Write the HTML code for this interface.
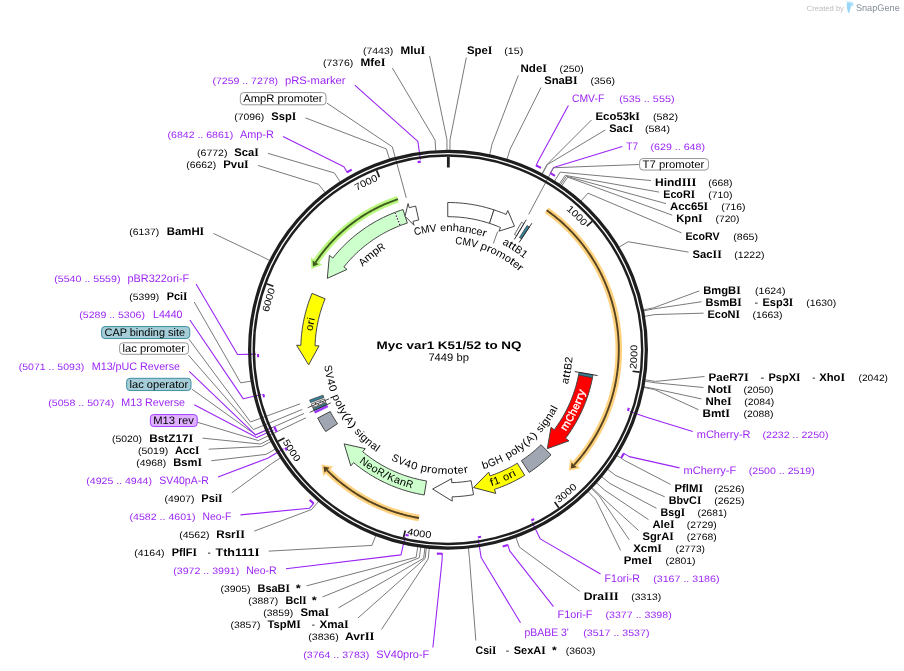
<!DOCTYPE html>
<html><head><meta charset="utf-8"><title>Myc var1 K51/52 to NQ</title>
<style>html,body{margin:0;padding:0;background:#fff}body{width:904px;height:671px;overflow:hidden;font-family:"Liberation Sans", sans-serif}svg{display:block;text-rendering:geometricPrecision;will-change:transform}</style>
</head><body>
<svg width="904" height="671" viewBox="0 0 904 671" font-family='"Liberation Sans", sans-serif'>
<rect width="904" height="671" fill="#fff"/>
<line x1="497.6" y1="231.7" x2="493.31" y2="243.46" stroke="#7a7a7a" stroke-width="1"/>
<polyline points="449.91,150.71 450.02,139.71 466.31,57.5" fill="none" stroke="#7a7a7a" stroke-width="1" stroke-linejoin="round"/>
<polyline points="489.65,155.11 491.96,144.35 518.25,75.5" fill="none" stroke="#7a7a7a" stroke-width="1" stroke-linejoin="round"/>
<polyline points="506.86,159.6 510.12,149.1 540.99,87.5" fill="none" stroke="#7a7a7a" stroke-width="1" stroke-linejoin="round"/>
<polyline points="535.91,166.06 538.89,159.83 568.39,105.5" fill="none" stroke="#9b25f5" stroke-width="1.08" stroke-linejoin="round"/>
<polyline points="541.81,174.2 547,164.5 591.5,120" fill="none" stroke="#7a7a7a" stroke-width="1" stroke-linejoin="round"/>
<polyline points="542.11,174.36 547.31,164.67 605.25,129.99" fill="none" stroke="#7a7a7a" stroke-width="1" stroke-linejoin="round"/>
<polyline points="550.11,173.56 553.57,167.59 622.25,146.53" fill="none" stroke="#9b25f5" stroke-width="1.08" stroke-linejoin="round"/>
<polyline points="638.75,164.5 553.47,167.76 528.65,214.41" fill="none" stroke="#7a7a7a" stroke-width="1" stroke-linejoin="round"/>
<polyline points="554.29,181.46 560.16,172.16 651,180.54" fill="none" stroke="#7a7a7a" stroke-width="1" stroke-linejoin="round"/>
<polyline points="558.99,184.53 565.13,175.4 659.25,192.11" fill="none" stroke="#7a7a7a" stroke-width="1" stroke-linejoin="round"/>
<polyline points="560.14,185.31 566.34,176.22 666,203.63" fill="none" stroke="#7a7a7a" stroke-width="1" stroke-linejoin="round"/>
<polyline points="561.43,186.19 567.7,177.15 672.25,215.18" fill="none" stroke="#7a7a7a" stroke-width="1" stroke-linejoin="round"/>
<polyline points="580.65,201.36 587.98,193.16 681.5,232.88" fill="none" stroke="#7a7a7a" stroke-width="1" stroke-linejoin="round"/>
<polyline points="618.68,247.38 628.11,241.72 688.5,252.14" fill="none" stroke="#7a7a7a" stroke-width="1" stroke-linejoin="round"/>
<polyline points="643,309.98 653.77,307.78 699.25,290.86" fill="none" stroke="#7a7a7a" stroke-width="1" stroke-linejoin="round"/>
<polyline points="643.19,310.96 653.98,308.82 701.5,301.74" fill="none" stroke="#7a7a7a" stroke-width="1" stroke-linejoin="round"/>
<polyline points="644.2,316.41 655.04,314.57 703.5,313.15" fill="none" stroke="#7a7a7a" stroke-width="1" stroke-linejoin="round"/>
<polyline points="644.72,379.76 655.59,381.42 704.5,376.5" fill="none" stroke="#7a7a7a" stroke-width="1" stroke-linejoin="round"/>
<polyline points="644.51,381.08 655.37,382.82 703.5,387.51" fill="none" stroke="#7a7a7a" stroke-width="1" stroke-linejoin="round"/>
<polyline points="643.53,386.71 654.34,388.75 701.5,398.92" fill="none" stroke="#7a7a7a" stroke-width="1" stroke-linejoin="round"/>
<polyline points="643.4,387.36 654.2,389.45 698.5,409.71" fill="none" stroke="#7a7a7a" stroke-width="1" stroke-linejoin="round"/>
<polyline points="629.77,411.53 647.29,417.49 692.75,431.46" fill="none" stroke="#9b25f5" stroke-width="1.08" stroke-linejoin="round"/>
<polyline points="623.39,453.11 629.33,456.61 679.5,467.88" fill="none" stroke="#9b25f5" stroke-width="1.08" stroke-linejoin="round"/>
<polyline points="616.62,455.38 625.94,461.23 670.5,484.4" fill="none" stroke="#7a7a7a" stroke-width="1" stroke-linejoin="round"/>
<polyline points="607.22,469.08 616.02,475.68 664.75,496.83" fill="none" stroke="#7a7a7a" stroke-width="1" stroke-linejoin="round"/>
<polyline points="601.4,476.46 609.88,483.47 656.5,508.33" fill="none" stroke="#7a7a7a" stroke-width="1" stroke-linejoin="round"/>
<polyline points="596.14,482.57 604.33,489.91 648.5,519.64" fill="none" stroke="#7a7a7a" stroke-width="1" stroke-linejoin="round"/>
<polyline points="591.69,487.37 599.64,494.98 638.5,530.44" fill="none" stroke="#7a7a7a" stroke-width="1" stroke-linejoin="round"/>
<polyline points="591.11,487.98 599.02,495.62 629.25,539.71" fill="none" stroke="#7a7a7a" stroke-width="1" stroke-linejoin="round"/>
<polyline points="587.81,491.32 595.53,499.14 620.6,550.5" fill="none" stroke="#7a7a7a" stroke-width="1" stroke-linejoin="round"/>
<polyline points="532.17,522.27 540.28,538.89 600.5,574.08" fill="none" stroke="#9b25f5" stroke-width="1.08" stroke-linejoin="round"/>
<polyline points="515.69,536.83 519.44,547.18 579.75,591.34" fill="none" stroke="#7a7a7a" stroke-width="1" stroke-linejoin="round"/>
<polyline points="507.68,544.36 509.7,550.95 553.5,606.64" fill="none" stroke="#9b25f5" stroke-width="1.08" stroke-linejoin="round"/>
<polyline points="478.24,539.3 481.15,557.57 520.5,622.72" fill="none" stroke="#9b25f5" stroke-width="1.08" stroke-linejoin="round"/>
<polyline points="468.36,547.66 469.48,558.6 475.84,640.5" fill="none" stroke="#7a7a7a" stroke-width="1" stroke-linejoin="round"/>
<polyline points="442.28,553.22 442.08,560.12 432.88,647.5" fill="none" stroke="#9b25f5" stroke-width="1.08" stroke-linejoin="round"/>
<polyline points="429.31,547.82 428.28,558.77 381.47,629.5" fill="none" stroke="#7a7a7a" stroke-width="1" stroke-linejoin="round"/>
<polyline points="426.34,547.52 425.14,558.45 358,617.96" fill="none" stroke="#7a7a7a" stroke-width="1" stroke-linejoin="round"/>
<polyline points="424.96,547.36 423.68,558.29 338.5,607.86" fill="none" stroke="#7a7a7a" stroke-width="1" stroke-linejoin="round"/>
<polyline points="420.81,546.83 419.31,557.73 322.5,596.97" fill="none" stroke="#7a7a7a" stroke-width="1" stroke-linejoin="round"/>
<polyline points="417.82,546.4 416.15,557.27 306.5,585.87" fill="none" stroke="#7a7a7a" stroke-width="1" stroke-linejoin="round"/>
<polyline points="405.13,536.85 401,554.88 286,568.75" fill="none" stroke="#9b25f5" stroke-width="1.08" stroke-linejoin="round"/>
<polyline points="375.91,535.18 371.92,545.43 268.75,551.15" fill="none" stroke="#7a7a7a" stroke-width="1" stroke-linejoin="round"/>
<polyline points="318.83,501.08 311.68,509.44 254.25,531.14" fill="none" stroke="#7a7a7a" stroke-width="1" stroke-linejoin="round"/>
<polyline points="314.04,503.02 309.5,508.22 240.5,514.9" fill="none" stroke="#9b25f5" stroke-width="1.08" stroke-linejoin="round"/>
<polyline points="280.82,457.65 271.58,463.62 231.75,492.9" fill="none" stroke="#7a7a7a" stroke-width="1" stroke-linejoin="round"/>
<polyline points="283.49,448.7 267.64,458.24 218,477.12" fill="none" stroke="#9b25f5" stroke-width="1.08" stroke-linejoin="round"/>
<polyline points="275.49,448.91 265.96,454.39 211.25,460.77" fill="none" stroke="#7a7a7a" stroke-width="1" stroke-linejoin="round"/>
<polyline points="271.39,441.4 261.62,446.47 208.75,449.18" fill="none" stroke="#7a7a7a" stroke-width="1" stroke-linejoin="round"/>
<polyline points="270.22,439.11 260.39,444.06 202.5,438.14" fill="none" stroke="#7a7a7a" stroke-width="1" stroke-linejoin="round"/>
<polyline points="198,422.45 258.34,440.57 305.96,417.75" fill="none" stroke="#7a7a7a" stroke-width="1" stroke-linejoin="round"/>
<polyline points="273.54,429.88 256.74,437.61 194.25,404.78" fill="none" stroke="#9b25f5" stroke-width="1.08" stroke-linejoin="round"/>
<polyline points="191.75,389.03 255.73,434.9 304.01,413.51" fill="none" stroke="#7a7a7a" stroke-width="1" stroke-linejoin="round"/>
<polyline points="272.41,427.37 255.49,434.86 189.25,371.48" fill="none" stroke="#9b25f5" stroke-width="1.08" stroke-linejoin="round"/>
<polyline points="188.42,355 253.43,429.5 302.28,409.46" fill="none" stroke="#7a7a7a" stroke-width="1" stroke-linejoin="round"/>
<polyline points="189.02,339.25 250.51,421.97 300.09,403.83" fill="none" stroke="#7a7a7a" stroke-width="1" stroke-linejoin="round"/>
<polyline points="261.3,394.51 243.31,398.83 189.9,320" fill="none" stroke="#9b25f5" stroke-width="1.08" stroke-linejoin="round"/>
<polyline points="251.49,381.08 240.63,382.82 194.23,302" fill="none" stroke="#7a7a7a" stroke-width="1" stroke-linejoin="round"/>
<polyline points="256.05,354.12 237.56,354.54 196.07,284" fill="none" stroke="#9b25f5" stroke-width="1.08" stroke-linejoin="round"/>
<polyline points="270.05,260.62 260.22,255.69 213.5,233.47" fill="none" stroke="#7a7a7a" stroke-width="1" stroke-linejoin="round"/>
<polyline points="325.39,192.96 318.61,184.3 258,165.44" fill="none" stroke="#7a7a7a" stroke-width="1" stroke-linejoin="round"/>
<polyline points="340.44,182.27 334.49,173.02 268,153.35" fill="none" stroke="#7a7a7a" stroke-width="1" stroke-linejoin="round"/>
<polyline points="347.33,172.73 343.92,166.73 283,136.59" fill="none" stroke="#9b25f5" stroke-width="1.08" stroke-linejoin="round"/>
<polyline points="389.62,159.46 386.39,148.94 305.5,117.9" fill="none" stroke="#7a7a7a" stroke-width="1" stroke-linejoin="round"/>
<polyline points="326.75,102.98 392.33,146.9 406.31,197.82" fill="none" stroke="#7a7a7a" stroke-width="1" stroke-linejoin="round"/>
<polyline points="420.48,159.68 417.83,141.37 354.75,85.08" fill="none" stroke="#9b25f5" stroke-width="1.08" stroke-linejoin="round"/>
<polyline points="435.75,151.08 435.08,140.1 392.35,68" fill="none" stroke="#7a7a7a" stroke-width="1" stroke-linejoin="round"/>
<polyline points="446.99,150.7 446.94,139.7 429.6,56" fill="none" stroke="#7a7a7a" stroke-width="1" stroke-linejoin="round"/>
<circle cx="448" cy="349.7" r="198.35" fill="none" stroke="#1e1e1e" stroke-width="3.25"/>
<circle cx="448" cy="349.7" r="194.2" fill="none" stroke="#1e1e1e" stroke-width="2.45"/>
<line x1="448.34" y1="156.7" x2="448.32" y2="167.5" stroke="#1e1e1e" stroke-width="2.8"/>
<line x1="592.17" y1="221.38" x2="586.79" y2="226.17" stroke="#1e1e1e" stroke-width="1.7"/>
<line x1="639.7" y1="372.07" x2="632.55" y2="371.24" stroke="#1e1e1e" stroke-width="1.7"/>
<line x1="558.74" y1="507.77" x2="554.61" y2="501.87" stroke="#1e1e1e" stroke-width="1.7"/>
<line x1="403.55" y1="537.51" x2="405.21" y2="530.51" stroke="#1e1e1e" stroke-width="1.7"/>
<line x1="278.16" y1="441.37" x2="284.49" y2="437.95" stroke="#1e1e1e" stroke-width="1.7"/>
<line x1="266.61" y1="283.78" x2="273.37" y2="286.24" stroke="#1e1e1e" stroke-width="1.7"/>
<line x1="376.64" y1="170.38" x2="379.3" y2="177.07" stroke="#1e1e1e" stroke-width="1.7"/>
<polygon points="447.74,202.5 450.35,202.52 452.97,202.58 455.58,202.7 458.18,202.85 460.79,203.06 463.39,203.31 465.98,203.6 468.57,203.94 471.15,204.33 473.73,204.77 476.3,205.25 478.86,205.77 481.4,206.34 483.94,206.96 486.47,207.62 488.99,208.32 491.49,209.07 493.98,209.86 489.54,223.35 487.29,222.64 485.03,221.96 482.76,221.32 480.48,220.73 478.18,220.17 475.88,219.65 473.57,219.18 471.25,218.75 468.92,218.36 466.59,218.01 464.25,217.7 461.9,217.43 459.55,217.2 457.2,217.02 454.84,216.88 452.49,216.78 450.13,216.72 447.77,216.7" fill="#ffffff" stroke="#444" stroke-width="1" stroke-linejoin="miter"/>
<polygon points="493.98,209.86 496.43,210.7 498.88,211.57 501.3,212.49 503.71,213.45 506.11,214.45 507.8,210.5 514.47,226.26 498.92,231.18 500.5,227.5 498.34,226.59 496.16,225.73 493.97,224.9 491.76,224.11 489.54,223.35" fill="#ffffff" stroke="#444" stroke-width="1" stroke-linejoin="miter"/>
<polygon points="521.6,222.22 523.92,223.59 516.6,235.76 514.5,234.52" fill="#ffffff" stroke="#444" stroke-width="0.8" stroke-linejoin="miter"/>
<line x1="514.38" y1="239.44" x2="526.3" y2="219.65" stroke="#222" stroke-width="0.9"/>
<polygon points="527.09,225.55 529.35,227.02 521.5,238.86 519.46,237.53" fill="#31849b" stroke="#444" stroke-width="0.8" stroke-linejoin="miter"/>
<line x1="519.13" y1="242.44" x2="531.89" y2="223.19" stroke="#222" stroke-width="0.9"/>
<polygon points="593.03,374.88 592.5,377.79 578.56,375.08 579.04,372.45" fill="#31849b" stroke="#444" stroke-width="0.8" stroke-linejoin="miter"/>
<line x1="574.82" y1="371.61" x2="597.58" y2="375.54" stroke="#222" stroke-width="0.9"/>
<polygon points="592.5,377.79 591.98,380.3 591.43,382.81 590.83,385.31 590.18,387.8 589.5,390.27 588.77,392.74 588,395.19 587.18,397.62 586.32,400.05 585.42,402.45 584.48,404.84 583.5,407.22 582.47,409.57 581.41,411.91 580.3,414.23 579.16,416.53 577.97,418.81 576.74,421.06 575.48,423.3 574.18,425.51 572.83,427.7 571.45,429.87 570.03,432.01 568.58,434.13 567.09,436.22 565.56,438.29 568.99,440.87 547.31,448.66 551.02,427.33 554.22,429.74 555.6,427.88 556.95,425.99 558.26,424.07 559.54,422.14 560.79,420.18 562,418.2 563.18,416.2 564.32,414.18 565.43,412.14 566.5,410.08 567.54,408 568.54,405.91 569.5,403.8 570.43,401.67 571.32,399.52 572.17,397.36 572.98,395.19 573.75,393 574.49,390.8 575.19,388.59 575.85,386.36 576.47,384.12 577.05,381.88 577.59,379.62 578.09,377.35 578.56,375.08" fill="#ff0000" stroke="#444" stroke-width="1" stroke-linejoin="miter"/>
<polygon points="550.99,454.87 548.97,456.81 546.92,458.71 544.82,460.57 542.7,462.4 540.54,464.18 538.34,465.92 536.11,467.61 533.86,469.27 531.57,470.88 529.25,472.45 521.41,460.61 523.5,459.19 525.57,457.73 527.61,456.24 529.63,454.71 531.61,453.13 533.56,451.52 535.48,449.88 537.37,448.2 539.23,446.48 541.06,444.72" fill="#a0a7b3" stroke="#444" stroke-width="1" stroke-linejoin="miter"/>
<polygon points="524.69,475.34 522.49,476.66 520.26,477.94 518.01,479.18 515.74,480.39 513.45,481.55 511.14,482.67 508.81,483.75 506.46,484.79 504.09,485.79 501.71,486.75 499.31,487.67 496.89,488.54 494.46,489.37 495.82,493.45 473.55,487.55 488.72,472.11 489.98,475.9 492.18,475.15 494.36,474.36 496.53,473.53 498.68,472.66 500.82,471.76 502.94,470.82 505.05,469.84 507.14,468.83 509.21,467.78 511.26,466.69 513.29,465.57 515.3,464.41 517.29,463.22" fill="#ffff00" stroke="#444" stroke-width="1" stroke-linejoin="miter"/>
<polygon points="473.56,494.66 470.9,495.11 468.23,495.5 465.56,495.85 462.88,496.15 460.19,496.39 457.5,496.59 454.81,496.74 452.11,496.84 452.23,501.14 432.62,489.05 451.6,478.65 451.71,482.65 454.15,482.56 456.58,482.42 459.01,482.24 461.44,482.02 463.86,481.75 466.28,481.44 468.69,481.08 471.1,480.68" fill="#ffffff" stroke="#444" stroke-width="1" stroke-linejoin="miter"/>
<polygon points="424.21,494.97 421.63,494.52 419.06,494.03 416.49,493.49 413.94,492.9 411.39,492.28 408.86,491.6 406.34,490.88 403.83,490.12 401.34,489.31 398.86,488.46 396.4,487.56 393.96,486.62 391.53,485.64 389.12,484.61 386.72,483.54 384.35,482.43 382,481.27 379.67,480.08 377.36,478.84 375.07,477.56 372.8,476.24 370.56,474.89 368.35,473.49 366.16,472.05 363.99,470.57 361.85,469.06 359.74,467.51 357.66,465.92 355.6,464.29 353.58,462.63 350.82,465.93 344.14,443.88 365.25,448.66 362.69,451.73 364.52,453.24 366.37,454.71 368.26,456.14 370.16,457.54 372.1,458.91 374.05,460.25 376.03,461.55 378.03,462.81 380.06,464.04 382.1,465.23 384.17,466.38 386.26,467.5 388.37,468.58 390.49,469.62 392.63,470.63 394.8,471.59 396.97,472.52 399.17,473.41 401.38,474.26 403.6,475.07 405.84,475.84 408.09,476.57 410.36,477.26 412.64,477.91 414.92,478.52 417.22,479.09 419.53,479.62 421.85,480.1 424.17,480.55 426.51,480.95" fill="#ccffcc" stroke="#444" stroke-width="1" stroke-linejoin="miter"/>
<polygon points="325.68,431.59 324.25,429.4 322.85,427.2 321.5,424.96 320.18,422.71 318.9,420.43 317.67,418.12 330.24,411.52 331.36,413.6 332.51,415.66 333.7,417.7 334.92,419.72 336.18,421.71 337.48,423.69" fill="#a0a7b3" stroke="#444" stroke-width="1" stroke-linejoin="miter"/>
<polygon points="312,293.37 311,295.85 310.05,298.34 309.14,300.85 308.28,303.38 307.46,305.93 306.69,308.48 305.96,311.06 305.29,313.64 304.65,316.24 304.07,318.84 303.53,321.46 303.05,324.09 302.6,326.72 302.21,329.37 301.87,332.02 301.57,334.67 301.32,337.33 301.12,340 300.97,342.66 300.86,345.33 296.57,345.21 308.62,364.84 319.06,345.87 315.06,345.75 315.15,343.34 315.29,340.93 315.47,338.52 315.7,336.12 315.96,333.72 316.28,331.33 316.63,328.94 317.03,326.56 317.47,324.19 317.95,321.82 318.48,319.46 319.05,317.12 319.66,314.78 320.32,312.46 321.02,310.15 321.76,307.85 322.54,305.57 323.36,303.3 324.22,301.04 325.12,298.8" fill="#ffff00" stroke="#444" stroke-width="1" stroke-linejoin="miter"/>
<polygon points="403,209.55 400.51,210.37 398.04,211.24 395.58,212.15 393.13,213.11 390.71,214.11 388.3,215.15 385.91,216.24 383.54,217.36 381.19,218.53 378.87,219.74 376.56,221 374.28,222.29 372.02,223.63 369.78,225 367.57,226.41 365.39,227.87 363.23,229.36 361.1,230.89 359,232.46 356.92,234.06 354.87,235.7 352.86,237.38 350.87,239.09 348.92,240.84 346.99,242.63 345.1,244.44 343.24,246.29 341.41,248.18 339.62,250.09 337.86,252.04 336.14,254.02 334.45,256.03 332.8,258.07 329.43,255.39 327.32,278.33 347.04,269.4 343.91,266.91 345.41,265.06 346.93,263.25 348.49,261.46 350.08,259.7 351.69,257.97 353.34,256.27 355.03,254.6 356.73,252.95 358.47,251.34 360.24,249.76 362.04,248.22 363.86,246.7 365.71,245.22 367.58,243.77 369.48,242.35 371.41,240.97 373.36,239.62 375.33,238.31 377.33,237.03 379.35,235.79 381.39,234.58 383.45,233.41 385.54,232.28 387.64,231.19 389.76,230.13 391.9,229.11 394.06,228.13 396.23,227.19 398.43,226.28 400.63,225.42 402.86,224.6 405.09,223.81 407.34,223.07" fill="#ccffcc" stroke="#444" stroke-width="1" stroke-linejoin="miter"/>
<polygon points="415.64,206.1 412.42,206.86 409.22,207.7 408.09,203.55 405.03,216.25 414.01,225.26 412.96,221.4 415.85,220.64 418.76,219.95" fill="#ffffff" stroke="#444" stroke-width="1" stroke-linejoin="miter"/>
<polygon points="315.19,413.19 314.3,411.28 327.2,405.34 328.01,407.06" fill="#9933ff" stroke="#9933ff" stroke-width="0.5" stroke-linejoin="miter"/>
<polygon points="313.95,410.51 313.06,408.51 326.08,402.84 326.88,404.64" fill="#31849b" stroke="#444" stroke-width="0.8" stroke-linejoin="miter"/>
<line x1="330.8" y1="402.87" x2="309.76" y2="412.41" stroke="#222" stroke-width="0.8"/>
<polygon points="312.75,407.81 311.23,404.13 324.43,398.88 325.8,402.2" fill="#ffffff" stroke="#444" stroke-width="0.8" stroke-linejoin="miter"/>
<line x1="329.05" y1="398.85" x2="307.7" y2="407.67" stroke="#222" stroke-width="0.8"/>
<polygon points="310.62,402.57 309.68,400.05 323.02,395.19 323.88,397.47" fill="#31849b" stroke="#444" stroke-width="0.8" stroke-linejoin="miter"/>
<circle cx="323.09" cy="402.21" r="0.7" fill="#222"/>
<circle cx="320.23" cy="401.84" r="0.7" fill="#222"/>
<circle cx="318.48" cy="404.15" r="0.7" fill="#222"/>
<circle cx="315.6" cy="403.73" r="0.7" fill="#222"/>
<circle cx="313.87" cy="406.08" r="0.7" fill="#222"/>
<line x1="399.9" y1="225.06" x2="395.22" y2="212.93" stroke="#fff" stroke-width="1.6"/>
<line x1="399.9" y1="225.06" x2="395.22" y2="212.93" stroke="#222" stroke-width="1.3" stroke-dasharray="1.3,1.7"/>
<path d="M546.6,210.23 L547.82,211.1 L549.02,211.98 L550.22,212.87 L551.41,213.77 L552.6,214.67 L553.77,215.59 L554.94,216.52 L556.1,217.46 L557.25,218.41 L558.39,219.37 L559.53,220.34 L560.65,221.32 L561.77,222.31 L562.88,223.31 L563.98,224.32 L565.07,225.33 L566.15,226.36 L567.23,227.4 L568.29,228.44 L569.35,229.5 L570.39,230.56 L571.43,231.64 L572.45,232.72 L573.47,233.81 L574.48,234.91 L575.48,236.02 L576.46,237.14 L577.44,238.27 L578.41,239.4 L579.37,240.55 L580.32,241.7 L581.26,242.86 L582.19,244.03 L583.1,245.2 L584.01,246.39 L584.91,247.58 L585.8,248.78 L586.67,249.99 L587.54,251.2 L588.39,252.43 L589.24,253.66 L590.07,254.89 L590.89,256.14 L591.71,257.39 L592.51,258.65 L593.3,259.92 L594.08,261.19 L594.84,262.47 L595.6,263.75 L596.35,265.05 L597.08,266.35 L597.8,267.65 L598.51,268.96 L599.21,270.28 L599.9,271.61 L600.58,272.94 L601.24,274.27 L601.9,275.61 L602.54,276.96 L603.17,278.31 L603.78,279.67 L604.39,281.04 L604.98,282.41 L605.57,283.78 L606.14,285.16 L606.69,286.54 L607.24,287.93 L607.77,289.33 L608.29,290.72 L608.8,292.13 L609.3,293.53 L609.79,294.94 L610.26,296.36 L610.72,297.78 L611.16,299.2 L611.6,300.63 L612.02,302.06 L612.43,303.5 L612.83,304.94 L613.21,306.38 L613.59,307.82 L613.95,309.27 L614.29,310.72 L614.63,312.18 L614.95,313.63 L615.26,315.09 L615.55,316.56 L615.84,318.02 L616.11,319.49 L616.36,320.96 L616.61,322.43 L616.84,323.9 L617.06,325.38 L617.27,326.86 L617.46,328.34 L617.64,329.82 L617.81,331.3 L617.96,332.79 L618.1,334.27 L618.23,335.76 L618.35,337.25 L618.45,338.74 L618.54,340.22 L618.61,341.72 L618.68,343.21 L618.73,344.7 L618.76,346.19 L618.79,347.68 L618.8,349.17 L618.8,350.67 L618.78,352.16 L618.75,353.65 L618.71,355.14 L618.66,356.63 L618.59,358.12 L618.51,359.61 L618.42,361.1 L618.31,362.59 L618.19,364.08 L618.06,365.57 L617.92,367.05 L617.76,368.53 L617.59,370.02 L617.4,371.5 L617.21,372.98 L617,374.45 L616.77,375.93 L616.54,377.4 L616.29,378.87 L616.03,380.34 L615.75,381.81 L615.47,383.27 L615.17,384.74 L614.86,386.2 L614.53,387.65 L614.19,389.11 L613.84,390.56 L613.48,392 L613.1,393.45 L612.71,394.89 L612.31,396.33 L611.9,397.76 L611.47,399.19 L611.03,400.62 L610.58,402.04 L610.12,403.46 L609.64,404.87 L609.16,406.28 L608.66,407.69 L608.14,409.09 L607.62,410.49 L607.08,411.88 L606.53,413.26 L605.97,414.65 L605.4,416.03 L604.81,417.4 L604.21,418.77 L603.6,420.13 L602.98,421.48 L602.35,422.84 L601.7,424.18 L601.05,425.52 L600.38,426.86 L599.7,428.18 L599.01,429.51 L598.31,430.82 L597.59,432.13 L596.87,433.44 L596.13,434.73 L595.38,436.02 L594.62,437.31 L593.85,438.59 L593.07,439.86 L592.27,441.12 L591.47,442.38 L590.65,443.63 L589.83,444.87 L588.99,446.11 L588.14,447.33 L587.28,448.56 L586.42,449.77 L585.54,450.97 L584.65,452.17 L583.75,453.36 L582.84,454.54 L581.91,455.72 L580.98,456.88 L580.04,458.04 L579.09,459.19 L578.13,460.33 L577.16,461.46 L576.18,462.59 L575.18,463.7 L574.18,464.81" fill="none" stroke="#ffd27f" stroke-width="6.6" stroke-linecap="butt"/>
<polygon points="576.84,467.24 570.76,468.45 571.52,462.38" fill="#ffd27f" stroke="#ffd27f" stroke-width="3.4" stroke-linejoin="miter"/>
<path d="M546.6,210.23 L547.82,211.1 L549.02,211.98 L550.22,212.87 L551.41,213.77 L552.6,214.67 L553.77,215.59 L554.94,216.52 L556.1,217.46 L557.25,218.41 L558.39,219.37 L559.53,220.34 L560.65,221.32 L561.77,222.31 L562.88,223.31 L563.98,224.32 L565.07,225.33 L566.15,226.36 L567.23,227.4 L568.29,228.44 L569.35,229.5 L570.39,230.56 L571.43,231.64 L572.45,232.72 L573.47,233.81 L574.48,234.91 L575.48,236.02 L576.46,237.14 L577.44,238.27 L578.41,239.4 L579.37,240.55 L580.32,241.7 L581.26,242.86 L582.19,244.03 L583.1,245.2 L584.01,246.39 L584.91,247.58 L585.8,248.78 L586.67,249.99 L587.54,251.2 L588.39,252.43 L589.24,253.66 L590.07,254.89 L590.89,256.14 L591.71,257.39 L592.51,258.65 L593.3,259.92 L594.08,261.19 L594.84,262.47 L595.6,263.75 L596.35,265.05 L597.08,266.35 L597.8,267.65 L598.51,268.96 L599.21,270.28 L599.9,271.61 L600.58,272.94 L601.24,274.27 L601.9,275.61 L602.54,276.96 L603.17,278.31 L603.78,279.67 L604.39,281.04 L604.98,282.41 L605.57,283.78 L606.14,285.16 L606.69,286.54 L607.24,287.93 L607.77,289.33 L608.29,290.72 L608.8,292.13 L609.3,293.53 L609.79,294.94 L610.26,296.36 L610.72,297.78 L611.16,299.2 L611.6,300.63 L612.02,302.06 L612.43,303.5 L612.83,304.94 L613.21,306.38 L613.59,307.82 L613.95,309.27 L614.29,310.72 L614.63,312.18 L614.95,313.63 L615.26,315.09 L615.55,316.56 L615.84,318.02 L616.11,319.49 L616.36,320.96 L616.61,322.43 L616.84,323.9 L617.06,325.38 L617.27,326.86 L617.46,328.34 L617.64,329.82 L617.81,331.3 L617.96,332.79 L618.1,334.27 L618.23,335.76 L618.35,337.25 L618.45,338.74 L618.54,340.22 L618.61,341.72 L618.68,343.21 L618.73,344.7 L618.76,346.19 L618.79,347.68 L618.8,349.17 L618.8,350.67 L618.78,352.16 L618.75,353.65 L618.71,355.14 L618.66,356.63 L618.59,358.12 L618.51,359.61 L618.42,361.1 L618.31,362.59 L618.19,364.08 L618.06,365.57 L617.92,367.05 L617.76,368.53 L617.59,370.02 L617.4,371.5 L617.21,372.98 L617,374.45 L616.77,375.93 L616.54,377.4 L616.29,378.87 L616.03,380.34 L615.75,381.81 L615.47,383.27 L615.17,384.74 L614.86,386.2 L614.53,387.65 L614.19,389.11 L613.84,390.56 L613.48,392 L613.1,393.45 L612.71,394.89 L612.31,396.33 L611.9,397.76 L611.47,399.19 L611.03,400.62 L610.58,402.04 L610.12,403.46 L609.64,404.87 L609.16,406.28 L608.66,407.69 L608.14,409.09 L607.62,410.49 L607.08,411.88 L606.53,413.26 L605.97,414.65 L605.4,416.03 L604.81,417.4 L604.21,418.77 L603.6,420.13 L602.98,421.48 L602.35,422.84 L601.7,424.18 L601.05,425.52 L600.38,426.86 L599.7,428.18 L599.01,429.51 L598.31,430.82 L597.59,432.13 L596.87,433.44 L596.13,434.73 L595.38,436.02 L594.62,437.31 L593.85,438.59 L593.07,439.86 L592.27,441.12 L591.47,442.38 L590.65,443.63 L589.83,444.87 L588.99,446.11 L588.14,447.33 L587.28,448.56 L586.42,449.77 L585.54,450.97 L584.65,452.17 L583.75,453.36 L582.84,454.54 L581.91,455.72 L580.98,456.88 L580.04,458.04 L579.09,459.19 L578.13,460.33 L577.16,461.46 L576.18,462.59 L575.18,463.7 L574.18,464.81" fill="none" stroke="#57431f" stroke-width="1.9"/>
<polygon points="576.84,467.24 570.76,468.45 571.52,462.38" fill="#57431f"/>
<path d="M419.08,518.03 L417.59,517.77 L416.11,517.5 L414.63,517.21 L413.16,516.91 L411.68,516.59 L410.21,516.27 L408.74,515.93 L407.28,515.57 L405.82,515.21 L404.36,514.83 L402.91,514.44 L401.45,514.04 L400.01,513.62 L398.56,513.19 L397.12,512.75 L395.69,512.29 L394.26,511.82 L392.83,511.34 L391.4,510.85 L389.99,510.35 L388.57,509.83 L387.16,509.3 L385.76,508.75 L384.36,508.2 L382.96,507.63 L381.57,507.05 L380.18,506.46 L378.8,505.86 L377.43,505.24 L376.06,504.61 L374.7,503.97 L373.34,503.32 L371.99,502.65 L370.64,501.98 L369.3,501.29 L367.97,500.59 L366.64,499.88 L365.32,499.15 L364,498.42 L362.7,497.67 L361.39,496.91 L360.1,496.14 L358.81,495.36 L357.53,494.57 L356.26,493.77 L354.99,492.95 L353.73,492.13 L352.48,491.29 L351.23,490.44 L349.99,489.58 L348.76,488.71 L347.54,487.83 L346.33,486.94 L345.12,486.04 L343.92,485.13 L342.73,484.2 L341.55,483.27 L340.38,482.33 L339.21,481.37 L338.05,480.41 L336.9,479.43 L335.76,478.45 L334.63,477.45 L333.51,476.45 L332.4,475.43 L331.29,474.41 L330.2,473.37 L329.11,472.33 L328.04,471.28 L326.97,470.21" fill="none" stroke="#ffd27f" stroke-width="6.6" stroke-linecap="butt"/>
<polygon points="324.42,472.75 323.49,466.62 329.52,467.67" fill="#ffd27f" stroke="#ffd27f" stroke-width="3.4" stroke-linejoin="miter"/>
<path d="M419.08,518.03 L417.59,517.77 L416.11,517.5 L414.63,517.21 L413.16,516.91 L411.68,516.59 L410.21,516.27 L408.74,515.93 L407.28,515.57 L405.82,515.21 L404.36,514.83 L402.91,514.44 L401.45,514.04 L400.01,513.62 L398.56,513.19 L397.12,512.75 L395.69,512.29 L394.26,511.82 L392.83,511.34 L391.4,510.85 L389.99,510.35 L388.57,509.83 L387.16,509.3 L385.76,508.75 L384.36,508.2 L382.96,507.63 L381.57,507.05 L380.18,506.46 L378.8,505.86 L377.43,505.24 L376.06,504.61 L374.7,503.97 L373.34,503.32 L371.99,502.65 L370.64,501.98 L369.3,501.29 L367.97,500.59 L366.64,499.88 L365.32,499.15 L364,498.42 L362.7,497.67 L361.39,496.91 L360.1,496.14 L358.81,495.36 L357.53,494.57 L356.26,493.77 L354.99,492.95 L353.73,492.13 L352.48,491.29 L351.23,490.44 L349.99,489.58 L348.76,488.71 L347.54,487.83 L346.33,486.94 L345.12,486.04 L343.92,485.13 L342.73,484.2 L341.55,483.27 L340.38,482.33 L339.21,481.37 L338.05,480.41 L336.9,479.43 L335.76,478.45 L334.63,477.45 L333.51,476.45 L332.4,475.43 L331.29,474.41 L330.2,473.37 L329.11,472.33 L328.04,471.28 L326.97,470.21" fill="none" stroke="#57431f" stroke-width="1.9"/>
<polygon points="324.42,472.75 323.49,466.62 329.52,467.67" fill="#57431f"/>
<path d="M397.94,199.21 L396.62,199.65 L395.31,200.11 L394,200.58 L392.69,201.06 L391.39,201.55 L390.09,202.05 L388.8,202.56 L387.51,203.09 L386.23,203.62 L384.95,204.17 L383.67,204.73 L382.4,205.3 L381.14,205.88 L379.88,206.47 L378.63,207.08 L377.38,207.69 L376.14,208.32 L374.9,208.95 L373.67,209.6 L372.44,210.25 L371.22,210.92 L370.01,211.6 L368.8,212.29 L367.6,212.99 L366.4,213.7 L365.21,214.42 L364.03,215.15 L362.85,215.9 L361.68,216.65 L360.52,217.41 L359.36,218.18 L358.21,218.96 L357.07,219.76 L355.93,220.56 L354.8,221.37 L353.68,222.19 L352.56,223.03 L351.46,223.87 L350.36,224.72 L349.26,225.58 L348.18,226.45 L347.1,227.33 L346.03,228.22 L344.97,229.12 L343.92,230.03 L342.87,230.95 L341.84,231.87 L340.81,232.81 L339.78,233.75 L338.77,234.71 L337.77,235.67 L336.77,236.64 L335.78,237.62 L334.81,238.61 L333.84,239.61 L332.87,240.61 L331.92,241.63 L330.98,242.65 L330.04,243.68 L329.12,244.72 L328.2,245.76 L327.3,246.82 L326.4,247.88 L325.51,248.95 L324.63,250.03 L323.76,251.12 L322.9,252.21 L322.05,253.31 L321.21,254.42 L320.38,255.54 L319.56,256.66 L318.75,257.79 L317.95,258.93 L317.15,260.07 L316.37,261.22 L315.6,262.38" fill="none" stroke="#b9f77f" stroke-width="6.6" stroke-linecap="butt"/>
<polygon points="312.6,260.4 312.92,266.6 318.61,264.36" fill="#b9f77f" stroke="#b9f77f" stroke-width="3.4" stroke-linejoin="miter"/>
<path d="M397.94,199.21 L396.62,199.65 L395.31,200.11 L394,200.58 L392.69,201.06 L391.39,201.55 L390.09,202.05 L388.8,202.56 L387.51,203.09 L386.23,203.62 L384.95,204.17 L383.67,204.73 L382.4,205.3 L381.14,205.88 L379.88,206.47 L378.63,207.08 L377.38,207.69 L376.14,208.32 L374.9,208.95 L373.67,209.6 L372.44,210.25 L371.22,210.92 L370.01,211.6 L368.8,212.29 L367.6,212.99 L366.4,213.7 L365.21,214.42 L364.03,215.15 L362.85,215.9 L361.68,216.65 L360.52,217.41 L359.36,218.18 L358.21,218.96 L357.07,219.76 L355.93,220.56 L354.8,221.37 L353.68,222.19 L352.56,223.03 L351.46,223.87 L350.36,224.72 L349.26,225.58 L348.18,226.45 L347.1,227.33 L346.03,228.22 L344.97,229.12 L343.92,230.03 L342.87,230.95 L341.84,231.87 L340.81,232.81 L339.78,233.75 L338.77,234.71 L337.77,235.67 L336.77,236.64 L335.78,237.62 L334.81,238.61 L333.84,239.61 L332.87,240.61 L331.92,241.63 L330.98,242.65 L330.04,243.68 L329.12,244.72 L328.2,245.76 L327.3,246.82 L326.4,247.88 L325.51,248.95 L324.63,250.03 L323.76,251.12 L322.9,252.21 L322.05,253.31 L321.21,254.42 L320.38,255.54 L319.56,256.66 L318.75,257.79 L317.95,258.93 L317.15,260.07 L316.37,261.22 L315.6,262.38" fill="none" stroke="#3d5c1e" stroke-width="1.9"/>
<polygon points="312.6,260.4 312.92,266.6 318.61,264.36" fill="#3d5c1e"/>
<path d="M536.17,165.52 L541.01,167.91" stroke="#9b25f5" stroke-width="2.1" fill="none"/>
<path d="M550.41,173.04 L555.04,175.81" stroke="#9b25f5" stroke-width="2.1" fill="none"/>
<path d="M628.88,407.85 L627.88,410.89" stroke="#9b25f5" stroke-width="2.1" fill="none"/>
<path d="M623.9,453.41 L621.1,458.03" stroke="#9b25f5" stroke-width="2.1" fill="none"/>
<path d="M534.16,519.04 L531.3,520.47" stroke="#9b25f5" stroke-width="2.1" fill="none"/>
<path d="M507.85,544.93 L502.67,546.45" stroke="#9b25f5" stroke-width="2.1" fill="none"/>
<path d="M481.09,536.8 L477.92,537.33" stroke="#9b25f5" stroke-width="2.1" fill="none"/>
<path d="M442.26,553.82 L436.87,553.6" stroke="#9b25f5" stroke-width="2.1" fill="none"/>
<path d="M408.7,535.59 L405.57,534.9" stroke="#9b25f5" stroke-width="2.1" fill="none"/>
<path d="M313.65,503.48 L309.63,499.87" stroke="#9b25f5" stroke-width="2.1" fill="none"/>
<path d="M286.88,450.4 L285.21,447.67" stroke="#9b25f5" stroke-width="2.1" fill="none"/>
<path d="M276.72,431.94 L275.36,429.05" stroke="#9b25f5" stroke-width="2.1" fill="none"/>
<path d="M275.7,429.77 L274.24,426.56" stroke="#9b25f5" stroke-width="2.1" fill="none"/>
<path d="M264.02,397.15 L263.25,394.04" stroke="#9b25f5" stroke-width="2.1" fill="none"/>
<path d="M258.15,357.27 L258.05,354.07" stroke="#9b25f5" stroke-width="2.1" fill="none"/>
<path d="M347.03,172.21 L351.76,169.6" stroke="#9b25f5" stroke-width="2.1" fill="none"/>
<path d="M417.6,162.15 L420.77,161.66" stroke="#9b25f5" stroke-width="2.1" fill="none"/>
<text transform="translate(568.31,211.81) rotate(41.11) scale(1.12,1)" text-anchor="middle" font-size="9.7" fill="#000">1</text>
<text transform="translate(572.73,215.79) rotate(42.97) scale(1.12,1)" text-anchor="middle" font-size="9.7" fill="#000">0</text>
<text transform="translate(577.01,219.91) rotate(44.83) scale(1.12,1)" text-anchor="middle" font-size="9.7" fill="#000">0</text>
<text transform="translate(581.16,224.17) rotate(46.69) scale(1.12,1)" text-anchor="middle" font-size="9.7" fill="#000">0</text>
<text transform="translate(636.57,366.26) rotate(275.02) scale(1.12,1)" text-anchor="middle" font-size="9.7" fill="#000">2</text>
<text transform="translate(637.01,360.13) rotate(273.16) scale(1.12,1)" text-anchor="middle" font-size="9.7" fill="#000">0</text>
<text transform="translate(637.25,353.98) rotate(271.3) scale(1.12,1)" text-anchor="middle" font-size="9.7" fill="#000">0</text>
<text transform="translate(637.29,347.83) rotate(269.43) scale(1.12,1)" text-anchor="middle" font-size="9.7" fill="#000">0</text>
<text transform="translate(561.01,501.57) rotate(323.35) scale(1.12,1)" text-anchor="middle" font-size="9.7" fill="#000">3</text>
<text transform="translate(565.88,497.82) rotate(321.49) scale(1.12,1)" text-anchor="middle" font-size="9.7" fill="#000">0</text>
<text transform="translate(570.63,493.91) rotate(319.62) scale(1.12,1)" text-anchor="middle" font-size="9.7" fill="#000">0</text>
<text transform="translate(575.25,489.85) rotate(317.76) scale(1.12,1)" text-anchor="middle" font-size="9.7" fill="#000">0</text>
<text transform="translate(409.69,535.08) rotate(371.68) scale(1.12,1)" text-anchor="middle" font-size="9.7" fill="#000">4</text>
<text transform="translate(415.73,536.23) rotate(369.81) scale(1.12,1)" text-anchor="middle" font-size="9.7" fill="#000">0</text>
<text transform="translate(421.81,537.18) rotate(367.95) scale(1.12,1)" text-anchor="middle" font-size="9.7" fill="#000">0</text>
<text transform="translate(427.91,537.93) rotate(366.09) scale(1.12,1)" text-anchor="middle" font-size="9.7" fill="#000">0</text>
<text transform="translate(284.05,444.34) rotate(420) scale(1.12,1)" text-anchor="middle" font-size="9.7" fill="#000">5</text>
<text transform="translate(287.21,449.61) rotate(418.14) scale(1.12,1)" text-anchor="middle" font-size="9.7" fill="#000">0</text>
<text transform="translate(290.54,454.78) rotate(416.28) scale(1.12,1)" text-anchor="middle" font-size="9.7" fill="#000">0</text>
<text transform="translate(294.04,459.84) rotate(414.42) scale(1.12,1)" text-anchor="middle" font-size="9.7" fill="#000">0</text>
<text transform="translate(269.51,309.32) rotate(282.75) scale(1.12,1)" text-anchor="middle" font-size="9.7" fill="#000">6</text>
<text transform="translate(270.92,303.54) rotate(284.61) scale(1.12,1)" text-anchor="middle" font-size="9.7" fill="#000">0</text>
<text transform="translate(272.51,297.81) rotate(286.47) scale(1.12,1)" text-anchor="middle" font-size="9.7" fill="#000">0</text>
<text transform="translate(274.29,292.14) rotate(288.33) scale(1.12,1)" text-anchor="middle" font-size="9.7" fill="#000">0</text>
<text transform="translate(359.5,189.52) rotate(331.08) scale(1.12,1)" text-anchor="middle" font-size="9.7" fill="#000">7</text>
<text transform="translate(364.75,186.73) rotate(332.94) scale(1.12,1)" text-anchor="middle" font-size="9.7" fill="#000">0</text>
<text transform="translate(370.08,184.12) rotate(334.8) scale(1.12,1)" text-anchor="middle" font-size="9.7" fill="#000">0</text>
<text transform="translate(375.5,181.67) rotate(336.66) scale(1.12,1)" text-anchor="middle" font-size="9.7" fill="#000">0</text>
<text transform="translate(418.48,234.73) rotate(-14.4) scale(0.9,1)" text-anchor="middle" font-size="10.7" fill="#000">C</text>
<text transform="translate(425.93,233.07) rotate(-10.71) scale(0.95,1)" text-anchor="middle" font-size="10.7" fill="#000">M</text>
<text transform="translate(433.41,231.9) rotate(-7.06) scale(0.96,1)" text-anchor="middle" font-size="10.7" fill="#000">V</text>
<text transform="translate(443.21,231.1) rotate(-2.31) scale(1,1)" text-anchor="middle" font-size="10.7" fill="#000">e</text>
<text transform="translate(449.31,231.01) rotate(0.63) scale(1.06,1)" text-anchor="middle" font-size="10.7" fill="#000">n</text>
<text transform="translate(455.58,231.24) rotate(3.66) scale(1.06,1)" text-anchor="middle" font-size="10.7" fill="#000">h</text>
<text transform="translate(461.67,231.79) rotate(6.61) scale(1.01,1)" text-anchor="middle" font-size="10.7" fill="#000">a</text>
<text transform="translate(467.73,232.65) rotate(9.57) scale(1.06,1)" text-anchor="middle" font-size="10.7" fill="#000">n</text>
<text transform="translate(473.35,233.74) rotate(12.33) scale(0.97,1)" text-anchor="middle" font-size="10.7" fill="#000">c</text>
<text transform="translate(478.73,235.05) rotate(15) scale(1,1)" text-anchor="middle" font-size="10.7" fill="#000">e</text>
<text transform="translate(483.6,236.46) rotate(17.45) scale(1.2,1)" text-anchor="middle" font-size="10.7" fill="#000">r</text>
<text transform="translate(458.54,244.43) rotate(5.72) scale(0.9,1)" text-anchor="middle" font-size="10.7" fill="#000">C</text>
<text transform="translate(466.1,245.46) rotate(9.85) scale(0.95,1)" text-anchor="middle" font-size="10.7" fill="#000">M</text>
<text transform="translate(473.5,247.02) rotate(13.95) scale(0.96,1)" text-anchor="middle" font-size="10.7" fill="#000">V</text>
<text transform="translate(483.04,249.87) rotate(19.34) scale(1.05,1)" text-anchor="middle" font-size="10.7" fill="#000">p</text>
<text transform="translate(487.9,251.71) rotate(22.16) scale(1.2,1)" text-anchor="middle" font-size="10.7" fill="#000">r</text>
<text transform="translate(492.6,253.76) rotate(24.93) scale(1.02,1)" text-anchor="middle" font-size="10.7" fill="#000">o</text>
<text transform="translate(499.56,257.32) rotate(29.17) scale(1.09,1)" text-anchor="middle" font-size="10.7" fill="#000">m</text>
<text transform="translate(506.25,261.38) rotate(33.41) scale(1.02,1)" text-anchor="middle" font-size="10.7" fill="#000">o</text>
<text transform="translate(510.32,264.21) rotate(36.09) scale(1.3,1)" text-anchor="middle" font-size="10.7" fill="#000">t</text>
<text transform="translate(514.22,267.18) rotate(38.75) scale(1,1)" text-anchor="middle" font-size="10.7" fill="#000">e</text>
<text transform="translate(518.09,270.45) rotate(41.49) scale(1.2,1)" text-anchor="middle" font-size="10.7" fill="#000">r</text>
<text transform="translate(504.55,245.34) rotate(28.45) scale(1.01,1)" text-anchor="middle" font-size="10.7" fill="#000">a</text>
<text transform="translate(508.84,247.77) rotate(30.83) scale(1.3,1)" text-anchor="middle" font-size="10.7" fill="#000">t</text>
<text transform="translate(512.16,249.83) rotate(32.72) scale(1.3,1)" text-anchor="middle" font-size="10.7" fill="#000">t</text>
<text transform="translate(516.6,252.83) rotate(35.3) scale(0.96,1)" text-anchor="middle" font-size="10.7" fill="#000">B</text>
<text transform="translate(521.84,256.76) rotate(38.47) scale(1.07,1)" text-anchor="middle" font-size="10.7" fill="#000">1</text>
<text transform="translate(365.15,264.42) rotate(315.83) scale(0.96,1)" text-anchor="middle" font-size="10.7" fill="#000">A</text>
<text transform="translate(371.23,258.9) rotate(319.79) scale(1.09,1)" text-anchor="middle" font-size="10.7" fill="#000">m</text>
<text transform="translate(377.44,254) rotate(323.6) scale(1.05,1)" text-anchor="middle" font-size="10.7" fill="#000">p</text>
<text transform="translate(382.8,250.27) rotate(326.75) scale(0.9,1)" text-anchor="middle" font-size="10.7" fill="#000">R</text>
<text transform="translate(568.47,427.3) rotate(302.79) scale(1.09,1)" text-anchor="middle" font-size="10.7" fill="#fff" stroke="#fff" stroke-width="0.35">m</text>
<text transform="translate(572.97,419.83) rotate(299.3) scale(0.9,1)" text-anchor="middle" font-size="10.7" fill="#fff" stroke="#fff" stroke-width="0.35">C</text>
<text transform="translate(576.22,413.69) rotate(296.52) scale(1.06,1)" text-anchor="middle" font-size="10.7" fill="#fff" stroke="#fff" stroke-width="0.35">h</text>
<text transform="translate(578.95,407.89) rotate(293.96) scale(1,1)" text-anchor="middle" font-size="10.7" fill="#fff" stroke="#fff" stroke-width="0.35">e</text>
<text transform="translate(581.03,402.98) rotate(291.83) scale(1.2,1)" text-anchor="middle" font-size="10.7" fill="#fff" stroke="#fff" stroke-width="0.35">r</text>
<text transform="translate(582.62,398.81) rotate(290.04) scale(1.2,1)" text-anchor="middle" font-size="10.7" fill="#fff" stroke="#fff" stroke-width="0.35">r</text>
<text transform="translate(584.35,393.79) rotate(287.92) scale(1.11,1)" text-anchor="middle" font-size="10.7" fill="#fff" stroke="#fff" stroke-width="0.35">y</text>
<text transform="translate(568.44,381.63) rotate(284.85) scale(1.01,1)" text-anchor="middle" font-size="10.7" fill="#000">a</text>
<text transform="translate(569.67,376.55) rotate(282.44) scale(1.3,1)" text-anchor="middle" font-size="10.7" fill="#000">t</text>
<text transform="translate(570.5,372.49) rotate(280.54) scale(1.3,1)" text-anchor="middle" font-size="10.7" fill="#000">t</text>
<text transform="translate(571.41,366.89) rotate(277.93) scale(0.96,1)" text-anchor="middle" font-size="10.7" fill="#000">B</text>
<text transform="translate(572.17,359.99) rotate(274.74) scale(1.07,1)" text-anchor="middle" font-size="10.7" fill="#000">2</text>
<text transform="translate(486.2,468.19) rotate(342.13) scale(1.05,1)" text-anchor="middle" font-size="10.7" fill="#000">b</text>
<text transform="translate(493.12,465.74) rotate(338.75) scale(0.93,1)" text-anchor="middle" font-size="10.7" fill="#000">G</text>
<text transform="translate(500.49,462.59) rotate(335.06) scale(0.97,1)" text-anchor="middle" font-size="10.7" fill="#000">H</text>
<text transform="translate(510.18,457.56) rotate(330.04) scale(1.05,1)" text-anchor="middle" font-size="10.7" fill="#000">p</text>
<text transform="translate(515.69,454.19) rotate(327.06) scale(1.02,1)" text-anchor="middle" font-size="10.7" fill="#000">o</text>
<text transform="translate(519.53,451.6) rotate(324.93) scale(1.15,1)" text-anchor="middle" font-size="10.7" fill="#000">l</text>
<text transform="translate(523.2,448.92) rotate(322.84) scale(1.11,1)" text-anchor="middle" font-size="10.7" fill="#000">y</text>
<text transform="translate(527.51,445.51) rotate(320.31) scale(1.27,1)" text-anchor="middle" font-size="10.7" fill="#000">(</text>
<text transform="translate(532.01,441.58) rotate(317.56) scale(0.96,1)" text-anchor="middle" font-size="10.7" fill="#000">A</text>
<text transform="translate(536.33,437.44) rotate(314.81) scale(1.27,1)" text-anchor="middle" font-size="10.7" fill="#000">)</text>
<text transform="translate(542.32,430.97) rotate(310.75) scale(0.97,1)" text-anchor="middle" font-size="10.7" fill="#000">s</text>
<text transform="translate(544.99,427.76) rotate(308.83) scale(1.15,1)" text-anchor="middle" font-size="10.7" fill="#000">i</text>
<text transform="translate(547.87,424.04) rotate(306.66) scale(1.05,1)" text-anchor="middle" font-size="10.7" fill="#000">g</text>
<text transform="translate(551.67,418.64) rotate(303.62) scale(1.06,1)" text-anchor="middle" font-size="10.7" fill="#000">n</text>
<text transform="translate(555.12,413.15) rotate(300.64) scale(1.01,1)" text-anchor="middle" font-size="10.7" fill="#000">a</text>
<text transform="translate(557.39,409.15) rotate(298.53) scale(1.15,1)" text-anchor="middle" font-size="10.7" fill="#000">l</text>
<text transform="translate(492.98,485.65) rotate(341.69) scale(1.18,1)" text-anchor="middle" font-size="10.7" fill="#000">f</text>
<text transform="translate(497.84,483.95) rotate(339.63) scale(1.07,1)" text-anchor="middle" font-size="10.7" fill="#000">1</text>
<text transform="translate(507.23,480.07) rotate(335.57) scale(1.02,1)" text-anchor="middle" font-size="10.7" fill="#000">o</text>
<text transform="translate(512.1,477.75) rotate(333.41) scale(1.2,1)" text-anchor="middle" font-size="10.7" fill="#000">r</text>
<text transform="translate(515.35,476.07) rotate(331.94) scale(1.15,1)" text-anchor="middle" font-size="10.7" fill="#000">i</text>
<text transform="translate(393.78,461.55) rotate(385.86) scale(0.96,1)" text-anchor="middle" font-size="10.7" fill="#000">S</text>
<text transform="translate(400.34,464.5) rotate(382.55) scale(0.96,1)" text-anchor="middle" font-size="10.7" fill="#000">V</text>
<text transform="translate(406.81,466.98) rotate(379.35) scale(1.07,1)" text-anchor="middle" font-size="10.7" fill="#000">4</text>
<text transform="translate(413.18,469.02) rotate(376.27) scale(1.07,1)" text-anchor="middle" font-size="10.7" fill="#000">0</text>
<text transform="translate(423.18,471.5) rotate(371.52) scale(1.05,1)" text-anchor="middle" font-size="10.7" fill="#000">p</text>
<text transform="translate(428.61,472.48) rotate(368.97) scale(1.2,1)" text-anchor="middle" font-size="10.7" fill="#000">r</text>
<text transform="translate(433.99,473.21) rotate(366.47) scale(1.02,1)" text-anchor="middle" font-size="10.7" fill="#000">o</text>
<text transform="translate(442.27,473.87) rotate(362.64) scale(1.09,1)" text-anchor="middle" font-size="10.7" fill="#000">m</text>
<text transform="translate(450.57,473.97) rotate(358.82) scale(1.02,1)" text-anchor="middle" font-size="10.7" fill="#000">o</text>
<text transform="translate(455.82,473.75) rotate(356.39) scale(1.3,1)" text-anchor="middle" font-size="10.7" fill="#000">t</text>
<text transform="translate(461,473.32) rotate(354) scale(1,1)" text-anchor="middle" font-size="10.7" fill="#000">e</text>
<text transform="translate(466.33,472.64) rotate(351.52) scale(1.2,1)" text-anchor="middle" font-size="10.7" fill="#000">r</text>
<text transform="translate(362.1,464.4) rotate(396.83) scale(0.97,1)" text-anchor="middle" font-size="10.7" fill="#000">N</text>
<text transform="translate(367.82,468.47) rotate(394.02) scale(1,1)" text-anchor="middle" font-size="10.7" fill="#000">e</text>
<text transform="translate(373.1,471.87) rotate(391.51) scale(1.02,1)" text-anchor="middle" font-size="10.7" fill="#000">o</text>
<text transform="translate(378.97,475.28) rotate(388.8) scale(0.9,1)" text-anchor="middle" font-size="10.7" fill="#000">R</text>
<text transform="translate(384.28,478.06) rotate(386.4) scale(1.3,1)" text-anchor="middle" font-size="10.7" fill="#000">/</text>
<text transform="translate(389.7,480.6) rotate(384.01) scale(0.97,1)" text-anchor="middle" font-size="10.7" fill="#000">K</text>
<text transform="translate(395.93,483.21) rotate(381.31) scale(1.01,1)" text-anchor="middle" font-size="10.7" fill="#000">a</text>
<text transform="translate(401.98,485.41) rotate(378.73) scale(1.06,1)" text-anchor="middle" font-size="10.7" fill="#000">n</text>
<text transform="translate(408.59,487.48) rotate(375.96) scale(0.9,1)" text-anchor="middle" font-size="10.7" fill="#000">R</text>
<text transform="translate(324.7,368.98) rotate(441.11) scale(0.96,1)" text-anchor="middle" font-size="10.7" fill="#000">S</text>
<text transform="translate(326.01,376.04) rotate(437.81) scale(0.96,1)" text-anchor="middle" font-size="10.7" fill="#000">V</text>
<text transform="translate(327.66,382.77) rotate(434.63) scale(1.07,1)" text-anchor="middle" font-size="10.7" fill="#000">4</text>
<text transform="translate(329.6,389.17) rotate(431.56) scale(1.07,1)" text-anchor="middle" font-size="10.7" fill="#000">0</text>
<text transform="translate(333.27,398.8) rotate(426.83) scale(1.05,1)" text-anchor="middle" font-size="10.7" fill="#000">p</text>
<text transform="translate(335.96,404.67) rotate(423.86) scale(1.02,1)" text-anchor="middle" font-size="10.7" fill="#000">o</text>
<text transform="translate(338.07,408.79) rotate(421.74) scale(1.15,1)" text-anchor="middle" font-size="10.7" fill="#000">l</text>
<text transform="translate(340.3,412.76) rotate(419.65) scale(1.11,1)" text-anchor="middle" font-size="10.7" fill="#000">y</text>
<text transform="translate(343.18,417.43) rotate(417.13) scale(1.27,1)" text-anchor="middle" font-size="10.7" fill="#000">(</text>
<text transform="translate(346.54,422.37) rotate(414.39) scale(0.96,1)" text-anchor="middle" font-size="10.7" fill="#000">A</text>
<text transform="translate(350.14,427.15) rotate(411.64) scale(1.27,1)" text-anchor="middle" font-size="10.7" fill="#000">)</text>
<text transform="translate(355.85,433.87) rotate(407.59) scale(0.97,1)" text-anchor="middle" font-size="10.7" fill="#000">s</text>
<text transform="translate(358.72,436.9) rotate(405.68) scale(1.15,1)" text-anchor="middle" font-size="10.7" fill="#000">i</text>
<text transform="translate(362.07,440.21) rotate(403.51) scale(1.05,1)" text-anchor="middle" font-size="10.7" fill="#000">g</text>
<text transform="translate(366.98,444.62) rotate(400.48) scale(1.06,1)" text-anchor="middle" font-size="10.7" fill="#000">n</text>
<text transform="translate(372.01,448.7) rotate(397.51) scale(1.01,1)" text-anchor="middle" font-size="10.7" fill="#000">a</text>
<text transform="translate(375.71,451.43) rotate(395.4) scale(1.15,1)" text-anchor="middle" font-size="10.7" fill="#000">l</text>
<text transform="translate(313,328.22) rotate(279.04) scale(1.02,1)" text-anchor="middle" font-size="10.7" fill="#000">o</text>
<text transform="translate(313.9,323.17) rotate(281.19) scale(1.2,1)" text-anchor="middle" font-size="10.7" fill="#000">r</text>
<text transform="translate(314.62,319.76) rotate(282.65) scale(1.15,1)" text-anchor="middle" font-size="10.7" fill="#000">i</text>
<text x="376.6" y="348.8" font-size="11.1" font-weight="bold" fill="#000" textLength="144.9" lengthAdjust="spacingAndGlyphs">Myc var1 K51/52 to NQ</text>
<text x="428.4" y="360.8" font-size="10.9" fill="#000" textLength="40.5" lengthAdjust="spacingAndGlyphs">7449 bp</text>
<text x="467" y="54" font-size="11.1" font-weight="bold" fill="#000" textLength="25.5" lengthAdjust="spacingAndGlyphs">Spe<tspan font-family="Liberation Serif" font-size="1.04em">I</tspan></text>
<text x="504.25" y="54" font-size="9.2" fill="#000" textLength="19" lengthAdjust="spacingAndGlyphs">(15)</text>
<text x="520.5" y="72" font-size="11.1" font-weight="bold" fill="#000" textLength="26.5" lengthAdjust="spacingAndGlyphs">Nde<tspan font-family="Liberation Serif" font-size="1.04em">I</tspan></text>
<text x="559.5" y="72" font-size="9.2" fill="#000" textLength="24.25" lengthAdjust="spacingAndGlyphs">(250)</text>
<text x="544.25" y="84" font-size="11.1" font-weight="bold" fill="#000" textLength="33.25" lengthAdjust="spacingAndGlyphs">SnaB<tspan font-family="Liberation Serif" font-size="1.04em">I</tspan></text>
<text x="590.5" y="84" font-size="9.2" fill="#000" textLength="24.5" lengthAdjust="spacingAndGlyphs">(356)</text>
<text x="572" y="102" font-size="10.9" fill="#9b25f5" textLength="32.25" lengthAdjust="spacingAndGlyphs">CMV-F</text>
<text x="619.25" y="102" font-size="9.2" fill="#9b25f5" textLength="55.25" lengthAdjust="spacingAndGlyphs">(535 .. 555)</text>
<text x="595.5" y="120" font-size="11.1" font-weight="bold" fill="#000" textLength="44.5" lengthAdjust="spacingAndGlyphs">Eco53k<tspan font-family="Liberation Serif" font-size="1.04em">I</tspan></text>
<text x="653" y="120" font-size="9.2" fill="#000" textLength="25" lengthAdjust="spacingAndGlyphs">(582)</text>
<text x="609.25" y="132" font-size="11.1" font-weight="bold" fill="#000" textLength="24" lengthAdjust="spacingAndGlyphs">Sac<tspan font-family="Liberation Serif" font-size="1.04em">I</tspan></text>
<text x="645" y="132" font-size="9.2" fill="#000" textLength="25" lengthAdjust="spacingAndGlyphs">(584)</text>
<text x="626.25" y="150" font-size="10.9" fill="#9b25f5" textLength="11.75" lengthAdjust="spacingAndGlyphs">T7</text>
<text x="650.5" y="150" font-size="9.2" fill="#9b25f5" textLength="54.5" lengthAdjust="spacingAndGlyphs">(629 .. 648)</text>
<rect x="639.6" y="158.55" width="68.9" height="11.5" rx="3.4" ry="3.4" fill="#fff" stroke="#8a8a8a" stroke-width="0.9"/>
<text x="642.5" y="168" font-size="10.9" fill="#000" textLength="61.75" lengthAdjust="spacingAndGlyphs">T7 promoter</text>
<text x="655" y="186" font-size="11.1" font-weight="bold" fill="#000" textLength="41.25" lengthAdjust="spacingAndGlyphs">Hind<tspan font-family="Liberation Serif" font-size="1.04em">III</tspan></text>
<text x="708.25" y="186" font-size="9.2" fill="#000" textLength="24.25" lengthAdjust="spacingAndGlyphs">(668)</text>
<text x="663.25" y="198" font-size="11.1" font-weight="bold" fill="#000" textLength="31.75" lengthAdjust="spacingAndGlyphs">EcoR<tspan font-family="Liberation Serif" font-size="1.04em">I</tspan></text>
<text x="708.25" y="198" font-size="9.2" fill="#000" textLength="24.25" lengthAdjust="spacingAndGlyphs">(710)</text>
<text x="670" y="210" font-size="11.1" font-weight="bold" fill="#000" textLength="38.25" lengthAdjust="spacingAndGlyphs">Acc65<tspan font-family="Liberation Serif" font-size="1.04em">I</tspan></text>
<text x="721.25" y="210" font-size="9.2" fill="#000" textLength="24.25" lengthAdjust="spacingAndGlyphs">(716)</text>
<text x="676.25" y="222" font-size="11.1" font-weight="bold" fill="#000" textLength="26.25" lengthAdjust="spacingAndGlyphs">Kpn<tspan font-family="Liberation Serif" font-size="1.04em">I</tspan></text>
<text x="715.5" y="222" font-size="9.2" fill="#000" textLength="24" lengthAdjust="spacingAndGlyphs">(720)</text>
<text x="685.5" y="240" font-size="11.1" font-weight="bold" fill="#000" textLength="34" lengthAdjust="spacingAndGlyphs">EcoRV</text>
<text x="733.25" y="240" font-size="9.2" fill="#000" textLength="24.75" lengthAdjust="spacingAndGlyphs">(865)</text>
<text x="692.5" y="258" font-size="11.1" font-weight="bold" fill="#000" textLength="29.25" lengthAdjust="spacingAndGlyphs">Sac<tspan font-family="Liberation Serif" font-size="1.04em">II</tspan></text>
<text x="734.25" y="258" font-size="9.2" fill="#000" textLength="30.25" lengthAdjust="spacingAndGlyphs">(1222)</text>
<text x="703.25" y="294" font-size="11.1" font-weight="bold" fill="#000" textLength="37.5" lengthAdjust="spacingAndGlyphs">BmgB<tspan font-family="Liberation Serif" font-size="1.04em">I</tspan></text>
<text x="755" y="294" font-size="9.2" fill="#000" textLength="30.5" lengthAdjust="spacingAndGlyphs">(1624)</text>
<text x="705.5" y="306" font-size="11.1" font-weight="bold" fill="#000" textLength="36.25" lengthAdjust="spacingAndGlyphs">BsmB<tspan font-family="Liberation Serif" font-size="1.04em">I</tspan></text>
<text x="754.5" y="306" font-size="10.9" fill="#000" textLength="3.5" lengthAdjust="spacingAndGlyphs">-</text>
<text x="762.5" y="306" font-size="11.1" font-weight="bold" fill="#000" textLength="30.75" lengthAdjust="spacingAndGlyphs">Esp3<tspan font-family="Liberation Serif" font-size="1.04em">I</tspan></text>
<text x="806.25" y="306" font-size="9.2" fill="#000" textLength="30" lengthAdjust="spacingAndGlyphs">(1630)</text>
<text x="707.5" y="318" font-size="11.1" font-weight="bold" fill="#000" textLength="32.5" lengthAdjust="spacingAndGlyphs">EcoN<tspan font-family="Liberation Serif" font-size="1.04em">I</tspan></text>
<text x="752.5" y="318" font-size="9.2" fill="#000" textLength="30" lengthAdjust="spacingAndGlyphs">(1663)</text>
<text x="708.5" y="381" font-size="11.1" font-weight="bold" fill="#000" textLength="40.25" lengthAdjust="spacingAndGlyphs">PaeR7<tspan font-family="Liberation Serif" font-size="1.04em">I</tspan></text>
<text x="760.5" y="381" font-size="10.9" fill="#000" textLength="3.75" lengthAdjust="spacingAndGlyphs">-</text>
<text x="768.5" y="381" font-size="11.1" font-weight="bold" fill="#000" textLength="32" lengthAdjust="spacingAndGlyphs">PspX<tspan font-family="Liberation Serif" font-size="1.04em">I</tspan></text>
<text x="812.25" y="381" font-size="10.9" fill="#000" textLength="3.25" lengthAdjust="spacingAndGlyphs">-</text>
<text x="819.25" y="381" font-size="11.1" font-weight="bold" fill="#000" textLength="25.75" lengthAdjust="spacingAndGlyphs">Xho<tspan font-family="Liberation Serif" font-size="1.04em">I</tspan></text>
<text x="858.5" y="381" font-size="9.2" fill="#000" textLength="29.5" lengthAdjust="spacingAndGlyphs">(2042)</text>
<text x="707.5" y="393" font-size="11.1" font-weight="bold" fill="#000" textLength="24.25" lengthAdjust="spacingAndGlyphs">Not<tspan font-family="Liberation Serif" font-size="1.04em">I</tspan></text>
<text x="743.5" y="393" font-size="9.2" fill="#000" textLength="30" lengthAdjust="spacingAndGlyphs">(2050)</text>
<text x="705.5" y="405" font-size="11.1" font-weight="bold" fill="#000" textLength="26.25" lengthAdjust="spacingAndGlyphs">Nhe<tspan font-family="Liberation Serif" font-size="1.04em">I</tspan></text>
<text x="744.25" y="405" font-size="9.2" fill="#000" textLength="30" lengthAdjust="spacingAndGlyphs">(2084)</text>
<text x="702.5" y="417" font-size="11.1" font-weight="bold" fill="#000" textLength="27.5" lengthAdjust="spacingAndGlyphs">Bmt<tspan font-family="Liberation Serif" font-size="1.04em">I</tspan></text>
<text x="743.5" y="417" font-size="9.2" fill="#000" textLength="30" lengthAdjust="spacingAndGlyphs">(2088)</text>
<text x="696.75" y="438" font-size="10.9" fill="#9b25f5" textLength="53.75" lengthAdjust="spacingAndGlyphs">mCherry-R</text>
<text x="762.5" y="438" font-size="9.2" fill="#9b25f5" textLength="66" lengthAdjust="spacingAndGlyphs">(2232 .. 2250)</text>
<text x="683.5" y="474" font-size="10.9" fill="#9b25f5" textLength="52.75" lengthAdjust="spacingAndGlyphs">mCherry-F</text>
<text x="748.75" y="474" font-size="9.2" fill="#9b25f5" textLength="66" lengthAdjust="spacingAndGlyphs">(2500 .. 2519)</text>
<text x="674.5" y="492" font-size="11.1" font-weight="bold" fill="#000" textLength="28.5" lengthAdjust="spacingAndGlyphs">PflM<tspan font-family="Liberation Serif" font-size="1.04em">I</tspan></text>
<text x="714.25" y="492" font-size="9.2" fill="#000" textLength="30.25" lengthAdjust="spacingAndGlyphs">(2526)</text>
<text x="668.75" y="504" font-size="11.1" font-weight="bold" fill="#000" textLength="32.5" lengthAdjust="spacingAndGlyphs">BbvC<tspan font-family="Liberation Serif" font-size="1.04em">I</tspan></text>
<text x="714.25" y="504" font-size="9.2" fill="#000" textLength="30.25" lengthAdjust="spacingAndGlyphs">(2625)</text>
<text x="660.5" y="516" font-size="11.1" font-weight="bold" fill="#000" textLength="24.5" lengthAdjust="spacingAndGlyphs">Bsg<tspan font-family="Liberation Serif" font-size="1.04em">I</tspan></text>
<text x="697.5" y="516" font-size="9.2" fill="#000" textLength="29.5" lengthAdjust="spacingAndGlyphs">(2681)</text>
<text x="652.5" y="528" font-size="11.1" font-weight="bold" fill="#000" textLength="22" lengthAdjust="spacingAndGlyphs">Ale<tspan font-family="Liberation Serif" font-size="1.04em">I</tspan></text>
<text x="686.75" y="528" font-size="9.2" fill="#000" textLength="30" lengthAdjust="spacingAndGlyphs">(2729)</text>
<text x="642.5" y="540" font-size="11.1" font-weight="bold" fill="#000" textLength="31.25" lengthAdjust="spacingAndGlyphs">SgrA<tspan font-family="Liberation Serif" font-size="1.04em">I</tspan></text>
<text x="686.75" y="540" font-size="9.2" fill="#000" textLength="30" lengthAdjust="spacingAndGlyphs">(2768)</text>
<text x="633.25" y="552" font-size="11.1" font-weight="bold" fill="#000" textLength="28.75" lengthAdjust="spacingAndGlyphs">Xcm<tspan font-family="Liberation Serif" font-size="1.04em">I</tspan></text>
<text x="675.5" y="552" font-size="9.2" fill="#000" textLength="29.5" lengthAdjust="spacingAndGlyphs">(2773)</text>
<text x="623.75" y="564" font-size="11.1" font-weight="bold" fill="#000" textLength="28.75" lengthAdjust="spacingAndGlyphs">Pme<tspan font-family="Liberation Serif" font-size="1.04em">I</tspan></text>
<text x="665.5" y="564" font-size="9.2" fill="#000" textLength="30" lengthAdjust="spacingAndGlyphs">(2801)</text>
<text x="604.5" y="582" font-size="10.9" fill="#9b25f5" textLength="35.5" lengthAdjust="spacingAndGlyphs">F1ori-R</text>
<text x="653.25" y="582" font-size="9.2" fill="#9b25f5" textLength="66.25" lengthAdjust="spacingAndGlyphs">(3167 .. 3186)</text>
<text x="583.75" y="600" font-size="11.1" font-weight="bold" fill="#000" textLength="35" lengthAdjust="spacingAndGlyphs">Dra<tspan font-family="Liberation Serif" font-size="1.04em">III</tspan></text>
<text x="631.25" y="600" font-size="9.2" fill="#000" textLength="30" lengthAdjust="spacingAndGlyphs">(3313)</text>
<text x="557.5" y="618" font-size="10.9" fill="#9b25f5" textLength="35" lengthAdjust="spacingAndGlyphs">F1ori-F</text>
<text x="605.5" y="618" font-size="9.2" fill="#9b25f5" textLength="66.25" lengthAdjust="spacingAndGlyphs">(3377 .. 3398)</text>
<text x="524.5" y="636" font-size="10.9" fill="#9b25f5" textLength="44.25" lengthAdjust="spacingAndGlyphs">pBABE 3'</text>
<text x="583.25" y="636" font-size="9.2" fill="#9b25f5" textLength="66.25" lengthAdjust="spacingAndGlyphs">(3517 .. 3537)</text>
<text x="475.5" y="654" font-size="11.1" font-weight="bold" fill="#000" textLength="20.75" lengthAdjust="spacingAndGlyphs">Csi<tspan font-family="Liberation Serif" font-size="1.04em">I</tspan></text>
<text x="505.75" y="654" font-size="10.9" fill="#000" textLength="3.5" lengthAdjust="spacingAndGlyphs">-</text>
<text x="513.75" y="654" font-size="11.1" font-weight="bold" fill="#000" textLength="32" lengthAdjust="spacingAndGlyphs">SexA<tspan font-family="Liberation Serif" font-size="1.04em">I</tspan></text>
<text x="552" y="654" font-size="11.1" font-weight="bold" fill="#000" textLength="4.75" lengthAdjust="spacingAndGlyphs">*</text>
<text x="565.75" y="654" font-size="9.2" fill="#000" textLength="29.75" lengthAdjust="spacingAndGlyphs">(3603)</text>
<text x="376.25" y="658" font-size="10.9" fill="#9b25f5" textLength="53" lengthAdjust="spacingAndGlyphs">SV40pro-F</text>
<text x="303.25" y="658" font-size="9.2" fill="#9b25f5" textLength="66" lengthAdjust="spacingAndGlyphs">(3764 .. 3783)</text>
<text x="308.25" y="640" font-size="9.2" fill="#000" textLength="30.5" lengthAdjust="spacingAndGlyphs">(3836)</text>
<text x="345" y="640" font-size="11.1" font-weight="bold" fill="#000" textLength="29.5" lengthAdjust="spacingAndGlyphs">Avr<tspan font-family="Liberation Serif" font-size="1.04em">II</tspan></text>
<text x="230.5" y="628" font-size="9.2" fill="#000" textLength="30" lengthAdjust="spacingAndGlyphs">(3857)</text>
<text x="267.5" y="628" font-size="11.1" font-weight="bold" fill="#000" textLength="33.25" lengthAdjust="spacingAndGlyphs">TspM<tspan font-family="Liberation Serif" font-size="1.04em">I</tspan></text>
<text x="311.75" y="628" font-size="10.9" fill="#000" textLength="3.25" lengthAdjust="spacingAndGlyphs">-</text>
<text x="319.5" y="628" font-size="11.1" font-weight="bold" fill="#000" textLength="29.25" lengthAdjust="spacingAndGlyphs">Xma<tspan font-family="Liberation Serif" font-size="1.04em">I</tspan></text>
<text x="263.25" y="616" font-size="9.2" fill="#000" textLength="30" lengthAdjust="spacingAndGlyphs">(3859)</text>
<text x="300.5" y="616" font-size="11.1" font-weight="bold" fill="#000" textLength="28.75" lengthAdjust="spacingAndGlyphs">Sma<tspan font-family="Liberation Serif" font-size="1.04em">I</tspan></text>
<text x="248.25" y="604" font-size="9.2" fill="#000" textLength="30" lengthAdjust="spacingAndGlyphs">(3887)</text>
<text x="285.5" y="604" font-size="11.1" font-weight="bold" fill="#000" textLength="21.25" lengthAdjust="spacingAndGlyphs">Bcl<tspan font-family="Liberation Serif" font-size="1.04em">I</tspan></text>
<text x="311.75" y="604" font-size="11.1" font-weight="bold" fill="#000" textLength="5" lengthAdjust="spacingAndGlyphs">*</text>
<text x="220.5" y="592" font-size="9.2" fill="#000" textLength="30" lengthAdjust="spacingAndGlyphs">(3905)</text>
<text x="257.5" y="592" font-size="11.1" font-weight="bold" fill="#000" textLength="32.5" lengthAdjust="spacingAndGlyphs">BsaB<tspan font-family="Liberation Serif" font-size="1.04em">I</tspan></text>
<text x="295.75" y="592" font-size="11.1" font-weight="bold" fill="#000" textLength="5" lengthAdjust="spacingAndGlyphs">*</text>
<text x="246.25" y="574" font-size="10.9" fill="#9b25f5" textLength="30.5" lengthAdjust="spacingAndGlyphs">Neo-R</text>
<text x="173.25" y="574" font-size="9.2" fill="#9b25f5" textLength="66" lengthAdjust="spacingAndGlyphs">(3972 .. 3991)</text>
<text x="134.25" y="556" font-size="9.2" fill="#000" textLength="30.25" lengthAdjust="spacingAndGlyphs">(4164)</text>
<text x="171.75" y="556" font-size="11.1" font-weight="bold" fill="#000" textLength="25.25" lengthAdjust="spacingAndGlyphs">PflF<tspan font-family="Liberation Serif" font-size="1.04em">I</tspan></text>
<text x="207.5" y="556" font-size="10.9" fill="#000" textLength="3.25" lengthAdjust="spacingAndGlyphs">-</text>
<text x="215.5" y="556" font-size="11.1" font-weight="bold" fill="#000" textLength="44" lengthAdjust="spacingAndGlyphs">Tth111<tspan font-family="Liberation Serif" font-size="1.04em">I</tspan></text>
<text x="179.25" y="538" font-size="9.2" fill="#000" textLength="30.25" lengthAdjust="spacingAndGlyphs">(4562)</text>
<text x="216.25" y="538" font-size="11.1" font-weight="bold" fill="#000" textLength="28.75" lengthAdjust="spacingAndGlyphs">Rsr<tspan font-family="Liberation Serif" font-size="1.04em">II</tspan></text>
<text x="202.5" y="520" font-size="10.9" fill="#9b25f5" textLength="28.75" lengthAdjust="spacingAndGlyphs">Neo-F</text>
<text x="129.5" y="520" font-size="9.2" fill="#9b25f5" textLength="66" lengthAdjust="spacingAndGlyphs">(4582 .. 4601)</text>
<text x="164.5" y="502" font-size="9.2" fill="#000" textLength="30" lengthAdjust="spacingAndGlyphs">(4907)</text>
<text x="201.25" y="502" font-size="11.1" font-weight="bold" fill="#000" textLength="21.25" lengthAdjust="spacingAndGlyphs">Psi<tspan font-family="Liberation Serif" font-size="1.04em">I</tspan></text>
<text x="159.25" y="484" font-size="10.9" fill="#9b25f5" textLength="49.5" lengthAdjust="spacingAndGlyphs">SV40pA-R</text>
<text x="86.25" y="484" font-size="9.2" fill="#9b25f5" textLength="65.75" lengthAdjust="spacingAndGlyphs">(4925 .. 4944)</text>
<text x="136.25" y="466" font-size="9.2" fill="#000" textLength="30" lengthAdjust="spacingAndGlyphs">(4968)</text>
<text x="173.25" y="466" font-size="11.1" font-weight="bold" fill="#000" textLength="28.75" lengthAdjust="spacingAndGlyphs">Bsm<tspan font-family="Liberation Serif" font-size="1.04em">I</tspan></text>
<text x="138" y="454" font-size="9.2" fill="#000" textLength="30.25" lengthAdjust="spacingAndGlyphs">(5019)</text>
<text x="175" y="454" font-size="11.1" font-weight="bold" fill="#000" textLength="24.5" lengthAdjust="spacingAndGlyphs">Acc<tspan font-family="Liberation Serif" font-size="1.04em">I</tspan></text>
<text x="112" y="442" font-size="9.2" fill="#000" textLength="30" lengthAdjust="spacingAndGlyphs">(5020)</text>
<text x="149.25" y="442" font-size="11.1" font-weight="bold" fill="#000" textLength="44" lengthAdjust="spacingAndGlyphs">BstZ17<tspan font-family="Liberation Serif" font-size="1.04em">I</tspan></text>
<rect x="150.35" y="414.55" width="46.9" height="12" rx="3.4" ry="3.4" fill="#dfb0ff" stroke="#9933ff" stroke-width="0.9"/>
<text x="153.25" y="424" font-size="10.9" fill="#000" textLength="40.5" lengthAdjust="spacingAndGlyphs">M13 rev</text>
<text x="121.25" y="406" font-size="10.9" fill="#9b25f5" textLength="63.75" lengthAdjust="spacingAndGlyphs">M13 Reverse</text>
<text x="48.25" y="406" font-size="9.2" fill="#9b25f5" textLength="66" lengthAdjust="spacingAndGlyphs">(5058 .. 5074)</text>
<rect x="126.6" y="378.3" width="64.4" height="12.25" rx="3.4" ry="3.4" fill="#a5cdd8" stroke="#31849b" stroke-width="0.9"/>
<text x="129.5" y="388" font-size="10.9" fill="#000" textLength="58.75" lengthAdjust="spacingAndGlyphs">lac operator</text>
<text x="91.75" y="370" font-size="10.9" fill="#9b25f5" textLength="88.25" lengthAdjust="spacingAndGlyphs">M13/pUC Reverse</text>
<text x="18.75" y="370" font-size="9.2" fill="#9b25f5" textLength="65.5" lengthAdjust="spacingAndGlyphs">(5071 .. 5093)</text>
<rect x="119.6" y="342.8" width="68.9" height="11.5" rx="3.4" ry="3.4" fill="#fff" stroke="#8a8a8a" stroke-width="0.9"/>
<text x="122.5" y="352" font-size="10.9" fill="#000" textLength="62.5" lengthAdjust="spacingAndGlyphs">lac promoter</text>
<rect x="101.6" y="326.55" width="88.15" height="12" rx="3.4" ry="3.4" fill="#a5cdd8" stroke="#31849b" stroke-width="0.9"/>
<text x="104.5" y="336" font-size="10.9" fill="#000" textLength="80.5" lengthAdjust="spacingAndGlyphs">CAP binding site</text>
<text x="153" y="318" font-size="10.9" fill="#9b25f5" textLength="29.5" lengthAdjust="spacingAndGlyphs">L4440</text>
<text x="79.25" y="318" font-size="9.2" fill="#9b25f5" textLength="65.75" lengthAdjust="spacingAndGlyphs">(5289 .. 5306)</text>
<text x="129.25" y="300" font-size="9.2" fill="#000" textLength="30" lengthAdjust="spacingAndGlyphs">(5399)</text>
<text x="166.75" y="300" font-size="11.1" font-weight="bold" fill="#000" textLength="20.75" lengthAdjust="spacingAndGlyphs">Pci<tspan font-family="Liberation Serif" font-size="1.04em">I</tspan></text>
<text x="127.5" y="282" font-size="10.9" fill="#9b25f5" textLength="61.75" lengthAdjust="spacingAndGlyphs">pBR322ori-F</text>
<text x="54.25" y="282" font-size="9.2" fill="#9b25f5" textLength="66.25" lengthAdjust="spacingAndGlyphs">(5540 .. 5559)</text>
<text x="129.25" y="235" font-size="9.2" fill="#000" textLength="30" lengthAdjust="spacingAndGlyphs">(6137)</text>
<text x="166.75" y="235" font-size="11.1" font-weight="bold" fill="#000" textLength="37.5" lengthAdjust="spacingAndGlyphs">BamH<tspan font-family="Liberation Serif" font-size="1.04em">I</tspan></text>
<text x="186.25" y="168" font-size="9.2" fill="#000" textLength="30" lengthAdjust="spacingAndGlyphs">(6662)</text>
<text x="223.25" y="168" font-size="11.1" font-weight="bold" fill="#000" textLength="25.5" lengthAdjust="spacingAndGlyphs">Pvu<tspan font-family="Liberation Serif" font-size="1.04em">I</tspan></text>
<text x="197" y="156" font-size="9.2" fill="#000" textLength="30.5" lengthAdjust="spacingAndGlyphs">(6772)</text>
<text x="234.25" y="156" font-size="11.1" font-weight="bold" fill="#000" textLength="24.5" lengthAdjust="spacingAndGlyphs">Sca<tspan font-family="Liberation Serif" font-size="1.04em">I</tspan></text>
<text x="240" y="138" font-size="10.9" fill="#9b25f5" textLength="33.75" lengthAdjust="spacingAndGlyphs">Amp-R</text>
<text x="167.5" y="138" font-size="9.2" fill="#9b25f5" textLength="65.75" lengthAdjust="spacingAndGlyphs">(6842 .. 6861)</text>
<text x="234.25" y="120" font-size="9.2" fill="#000" textLength="30" lengthAdjust="spacingAndGlyphs">(7096)</text>
<text x="271.25" y="120" font-size="11.1" font-weight="bold" fill="#000" textLength="25" lengthAdjust="spacingAndGlyphs">Ssp<tspan font-family="Liberation Serif" font-size="1.04em">I</tspan></text>
<rect x="240.35" y="92.55" width="85.65" height="12.25" rx="3.4" ry="3.4" fill="#fff" stroke="#8a8a8a" stroke-width="0.9"/>
<text x="243.25" y="102" font-size="10.9" fill="#000" textLength="79.25" lengthAdjust="spacingAndGlyphs">AmpR promoter</text>
<text x="285" y="84" font-size="10.9" fill="#9b25f5" textLength="60.5" lengthAdjust="spacingAndGlyphs">pRS-marker</text>
<text x="212.5" y="84" font-size="9.2" fill="#9b25f5" textLength="65.5" lengthAdjust="spacingAndGlyphs">(7259 .. 7278)</text>
<text x="323" y="66" font-size="9.2" fill="#000" textLength="30.25" lengthAdjust="spacingAndGlyphs">(7376)</text>
<text x="360.5" y="66" font-size="11.1" font-weight="bold" fill="#000" textLength="25" lengthAdjust="spacingAndGlyphs">Mfe<tspan font-family="Liberation Serif" font-size="1.04em">I</tspan></text>
<text x="363" y="54" font-size="9.2" fill="#000" textLength="30.25" lengthAdjust="spacingAndGlyphs">(7443)</text>
<text x="400.5" y="54" font-size="11.1" font-weight="bold" fill="#000" textLength="24.75" lengthAdjust="spacingAndGlyphs">Mlu<tspan font-family="Liberation Serif" font-size="1.04em">I</tspan></text>
<text x="806.8" y="10.8" font-size="7.7" fill="#bdbdbd" textLength="37.1" lengthAdjust="spacingAndGlyphs">Created by</text>
<path d="M846.1,1.3 L850.9,1.3 L850.9,2.7 L846.1,2.7 Z" fill="#d4f0fe"/>
<path d="M850.4,2.2 L852.3,2.3 Q853.7,3 853.6,4.6 Q853.4,6.3 851.6,6.6 L850.4,6.6 Z" fill="#aee1fb"/>
<path d="M846.8,2.5 L850.7,2.5 L850.7,7.6 L849.5,12.2 Q848.7,13.2 847.9,12.2 L846.9,7.6 Z" fill="#97d7f9"/>
<text x="855.9" y="10.8" font-size="9.5" fill="#878e98" textLength="43.9" lengthAdjust="spacingAndGlyphs">SnapGene</text>
</svg>
</body></html>
